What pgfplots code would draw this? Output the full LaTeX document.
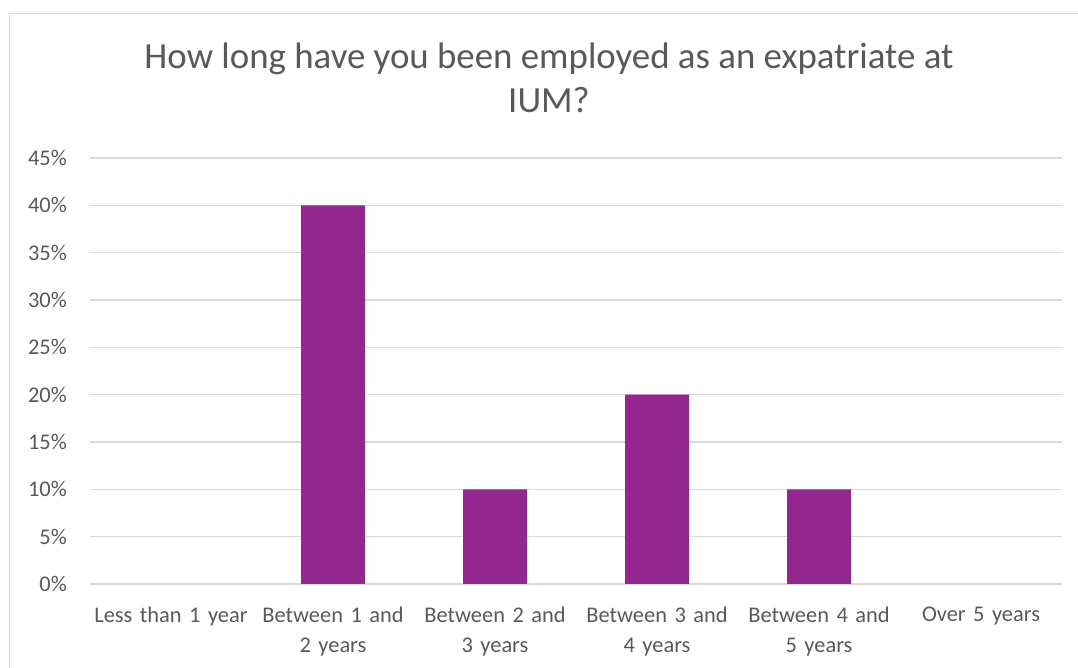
\documentclass[border=0pt]{standalone}
\usepackage{pgfplots}
\pgfplotsset{compat=1.18}
\usepackage{fontspec}
\setmainfont{Carlito}
\definecolor{barc}{RGB}{145,39,143}
\definecolor{txt}{RGB}{89,89,89}
\definecolor{gridc}{RGB}{217,217,217}
\begin{document}
\begin{tikzpicture}[x=1bp,y=1bp]
\useasboundingbox (0,0) rectangle (1078,668);
\draw[gridc, line width=1.3bp] (9.5,0) -- (9.5,654.5) -- (1078,654.5);
\node[text=txt, font=\fontsize{37}{45}\selectfont, align=center, anchor=base] at (549,555) {How long have you been employed as an expatriate at\\IUM?};
\begin{axis}[
  at={(90bp,84bp)}, anchor=south west, scale only axis,
  width=972bp, height=426bp,
  xmin=-0.5, xmax=5.5, ymin=0, ymax=45,
  ytick={0,5,...,45},
  yticklabels={0\%,5\%,10\%,15\%,20\%,25\%,30\%,35\%,40\%,45\%},
  xtick={0,1,2,3,4,5},
  xticklabels={Less than 1 year,Between 1 and\\2 years,Between 2 and\\3 years,Between 3 and\\4 years,Between 4 and\\5 years,Over 5 years},
  axis line style={draw=none},
  major tick length=0pt,
  ymajorgrids,
  grid style={gridc, line width=1.3bp},
  yticklabel style={font=\fontsize{22.5}{27}\selectfont, text=txt, anchor=east, inner sep=0pt, xshift=-23bp},
  xticklabel style={font=\fontsize{22.5}{30}\selectfont, text=txt, anchor=north, inner sep=0pt, yshift=-23bp, text width=170bp, align=center},
  /pgf/number format/assume math mode=true,
  ybar, bar width=64bp,
]
\addplot[fill=barc, draw=none] coordinates {(1,40) (2,10) (3,20) (4,10)};
\end{axis}
\end{tikzpicture}
\end{document}
